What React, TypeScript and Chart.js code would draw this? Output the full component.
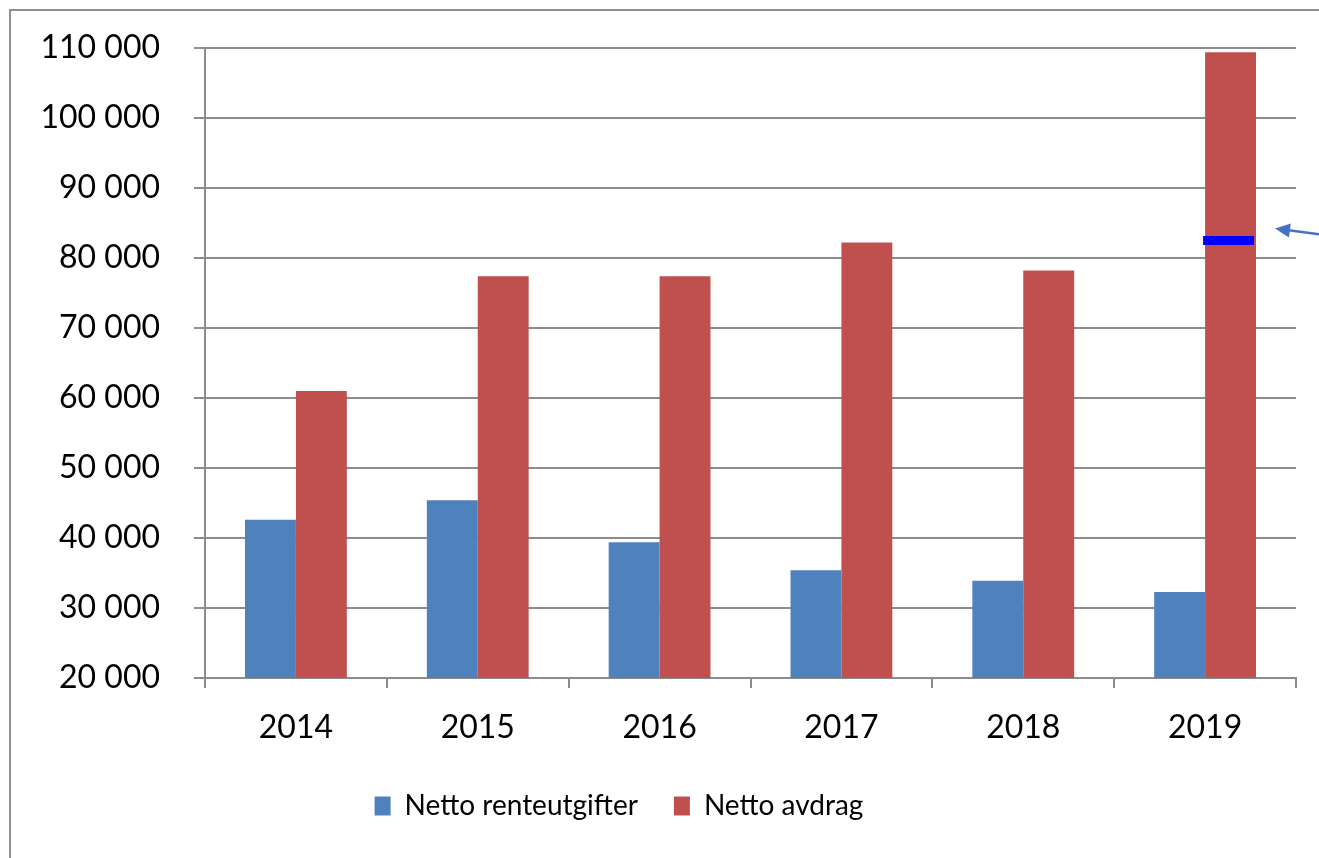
import React, { useEffect, useRef } from "react";
import { Chart, registerables } from "chart.js";

Chart.register(...registerables);

const categories = ["2014", "2015", "2016", "2017", "2018", "2019"];
const rentSeries = [42600, 45400, 39400, 35400, 33900, 32300];
const avdragSeries = [61000, 77400, 77400, 82200, 78200, 109400];
const seriesNames = ["Netto renteutgifter", "Netto avdrag"];
const markerCategoryIndex = 5;
const markerValue = 82500;
const yMin = 20000;
const yMax = 110000;
const yStep = 10000;

const GRID = "#8c8c8c";
const FONT = "Lato";
const LEGEND_SHIFT = -29;

const fmt = (v: number) => String(v).replace(/\B(?=(\d{3})+(?!\d))/g, " ");

export default function App() {
  const ref = useRef<HTMLCanvasElement | null>(null);

  useEffect(() => {
    if (!ref.current) return;

    const framePlugin = {
      id: "frame",
      beforeDraw(chart: any) {
        const ctx = chart.ctx;
        ctx.save();
        ctx.strokeStyle = "#8f8f8f";
        ctx.lineWidth = 2;
        ctx.strokeRect(10, 10, 3000, 3000);
        ctx.restore();
      },
    };

    const legendShift = {
      id: "legendShift",
      afterLayout(chart: any) {
        const l = chart.legend;
        if (l) {
          l.left += LEGEND_SHIFT;
          l.right += LEGEND_SHIFT;
        }
      },
    };

    const markerPlugin = {
      id: "marker",
      afterDatasetsDraw(chart: any) {
        const meta = chart.getDatasetMeta(1);
        const bar: any = meta.data[markerCategoryIndex];
        if (!bar) return;
        const y = chart.scales.y.getPixelForValue(markerValue);
        const ctx = chart.ctx;
        ctx.save();
        ctx.fillStyle = "#0000ff";
        ctx.fillRect(bar.x - bar.width / 2 - 2, y - 4.5, bar.width, 9);
        const tipX = bar.x + bar.width / 2 + 19;
        const tipY = y - 12;
        const tailX = tipX + 70;
        const tailY = tipY + 9.3;
        const ang = Math.atan2(tailY - tipY, tailX - tipX);
        ctx.strokeStyle = "#4472c4";
        ctx.fillStyle = "#4472c4";
        ctx.lineWidth = 2.5;
        ctx.beginPath();
        ctx.moveTo(tipX + Math.cos(ang) * 10, tipY + Math.sin(ang) * 10);
        ctx.lineTo(tailX, tailY);
        ctx.stroke();
        const len = 15;
        const hw = 7;
        const bx = tipX + Math.cos(ang) * len;
        const by = tipY + Math.sin(ang) * len;
        ctx.beginPath();
        ctx.moveTo(tipX, tipY);
        ctx.lineTo(bx - Math.sin(ang) * hw, by + Math.cos(ang) * hw);
        ctx.lineTo(bx + Math.sin(ang) * hw, by - Math.cos(ang) * hw);
        ctx.closePath();
        ctx.fill();
        ctx.restore();
      },
    };

    const chart = new Chart(ref.current, {
      type: "bar",
      data: {
        labels: categories,
        datasets: [
          {
            label: seriesNames[0],
            data: rentSeries,
            backgroundColor: "#4f81bd",
            borderWidth: 0,
            categoryPercentage: 0.56,
            barPercentage: 1,
          },
          {
            label: seriesNames[1],
            data: avdragSeries,
            backgroundColor: "#c0504d",
            borderWidth: 0,
            categoryPercentage: 0.56,
            barPercentage: 1,
          },
        ],
      },
      options: {
        responsive: false,
        animation: false,
        devicePixelRatio: 1,
        layout: { padding: { left: 0, right: 23, top: 48, bottom: 28 } },
        plugins: {
          tooltip: { enabled: false },
          legend: {
            position: "bottom",
            labels: {
              boxWidth: 16,
              boxHeight: 19,
              padding: 36,
              color: "#000",
              font: { family: FONT, size: 28 },
            },
          },
        },
        scales: {
          x: {
            grid: {
              offset: true,
              drawOnChartArea: false,
              drawTicks: true,
              tickLength: 10,
              color: GRID,
              lineWidth: 2,
            },
            border: { display: true, color: GRID, width: 2 },
            ticks: {
              color: "#000",
              padding: 20,
              font: { family: FONT, size: 32 },
              maxRotation: 0,
            },
            afterFit(scale: any) {
              scale.height = 78;
            },
          },
          y: {
            min: yMin,
            max: yMax,
            grid: {
              color: GRID,
              lineWidth: 2,
              drawTicks: true,
              tickLength: 11,
            },
            border: { display: true, color: GRID, width: 2 },
            ticks: {
              stepSize: yStep,
              color: "#000",
              padding: 34,
              font: { family: FONT, size: 32 },
              callback: (v: any) => fmt(Number(v)),
            },
            afterFit(scale: any) {
              scale.width = 205;
              scale.paddingTop = 0;
              scale.paddingBottom = 0;
            },
          },
        },
      },
      plugins: [framePlugin, legendShift, markerPlugin],
    });

    return () => chart.destroy();
  }, []);

  return (
    <div style={{ position: "fixed", left: 0, top: 0, width: 1319, height: 858, overflow: "hidden", background: "#fff" }}>
      <canvas ref={ref} width={1319} height={858} style={{ display: "block" }} />
    </div>
  );
}
